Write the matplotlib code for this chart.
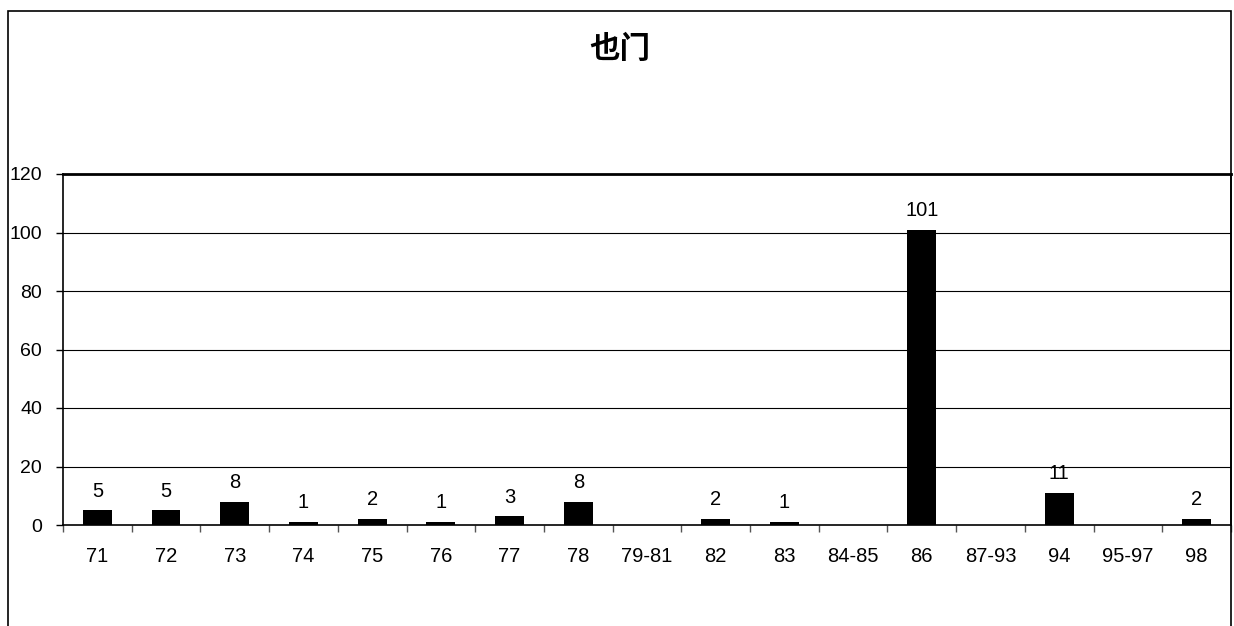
import numpy as np
import matplotlib
matplotlib.use("Agg")
import matplotlib.pyplot as plt
from matplotlib.patches import Rectangle

plt.rcParams['font.family'] = ['Liberation Sans', 'Noto Sans CJK SC', 'DejaVu Sans']

# data
title = '也门'
categories = ['71', '72', '73', '74', '75', '76', '77', '78', '79-81', '82',
              '83', '84-85', '86', '87-93', '94', '95-97', '98']
values = [5, 5, 8, 1, 2, 1, 3, 8, 0, 2, 1, 0, 101, 0, 11, 0, 2]
yticks = [0, 20, 40, 60, 80, 100, 120]

W, H = 1234, 626
fig = plt.figure(figsize=(W / 100, H / 100), dpi=100)

# outer chart border
fig.patches.append(Rectangle((8 / W, -0.05), (1231 - 8) / W, 1.05 - 11 / H,
                             transform=fig.transFigure, fill=False,
                             edgecolor='black', linewidth=1.2))

ax = fig.add_axes([63 / W, 1 - 525 / H, (1231 - 63) / W, (525 - 174) / H])
x = np.arange(len(categories))
ax.bar(x, values, width=0.42, color='black', zorder=3)

for xi, v in zip(x, values):
    if v > 0:
        ax.annotate(str(v), (xi, v), xytext=(0, 7), textcoords='offset points',
                    ha='center', va='bottom', fontsize=14.5, zorder=4)

ax.set_xlim(-0.5, len(categories) - 0.5)
ax.set_ylim(0, 120)

# y axis
ax.set_yticks(yticks)
ax.tick_params(axis='y', direction='out', length=5, width=1, labelsize=14, pad=10)
for y in yticks[1:-1]:
    ax.axhline(y, color='black', linewidth=0.8, zorder=1)

# x axis: ticks at category boundaries, labels at centres
ax.set_xticks(np.arange(len(categories) + 1) - 0.5)
ax.set_xticklabels([])
ax.tick_params(axis='x', which='major', direction='out', length=5, width=1, color='#555555')
ax.set_xticks(x, minor=True)
ax.set_xticklabels(categories, minor=True)
ax.tick_params(axis='x', which='minor', length=0, labelsize=14.5, pad=16)

ax.spines['top'].set_linewidth(2)
ax.spines['left'].set_linewidth(1.2)
ax.spines['bottom'].set_linewidth(1.2)
ax.spines['right'].set_linewidth(1.2)

fig.text(620 / W, 1 - 50 / H, title, ha='center', va='center',
         fontsize=22, fontweight='bold')

fig.savefig('out.png', dpi=100)
